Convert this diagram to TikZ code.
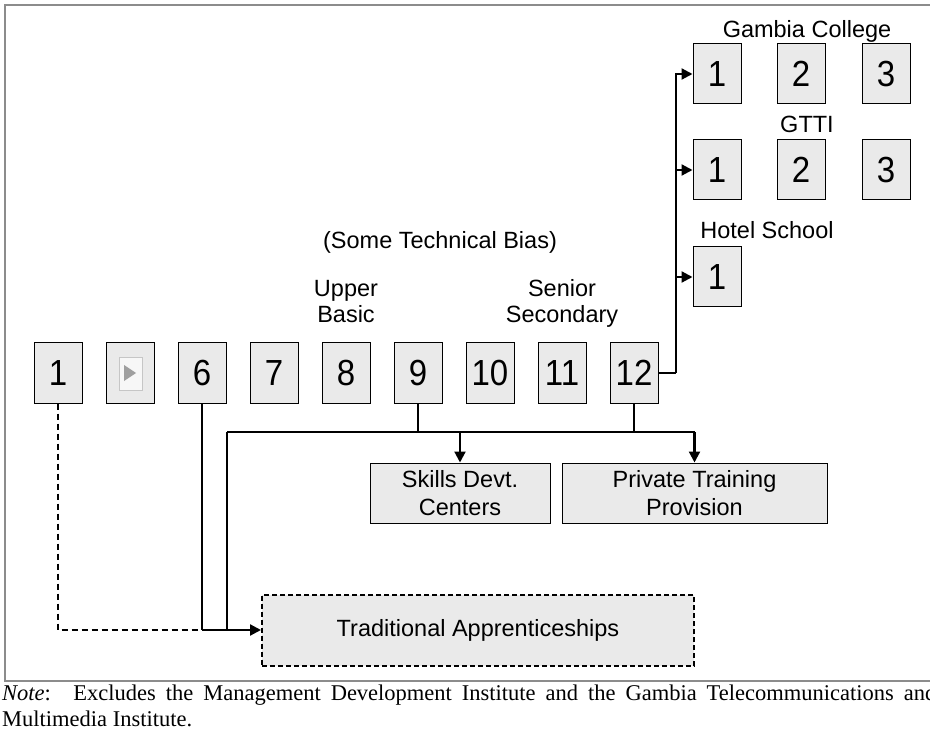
\documentclass[tikz,border=0pt]{standalone}
\usepackage{fontspec}
\setmainfont{Liberation Serif}
\newfontfamily\arialf{Liberation Sans}
\usetikzlibrary{arrows.meta}
\definecolor{boxfill}{HTML}{EAEAEA}
\definecolor{framegray}{HTML}{8C8C8C}
\newcommand{\tall}[1]{\scalebox{1}[1.1]{#1}}
\tikzset{
  yr/.style={draw=black, line width=1pt, fill=boxfill, minimum width=48pt, minimum height=60pt, inner sep=0pt, font=\arialf\fontsize{33}{35}\selectfont},
  lbl/.style={align=center, inner sep=0pt, anchor=base, font=\arialf\fontsize{23.5}{26}\selectfont},
  inst/.style={draw=black, line width=1pt, fill=boxfill, minimum height=60pt, inner sep=0pt, align=center, font=\arialf\fontsize{23.5}{28}\selectfont},
  link/.style={line width=2.2pt},
  arr/.style={line width=2.2pt, -{Triangle[length=11pt,width=11pt]}},
}
\begin{document}
\begin{tikzpicture}[x=1pt,y=-1pt]
\useasboundingbox (0,0) rectangle (930,730);
% frame
\draw[framegray, line width=2pt] (5,5) rectangle (945,681);
% school years
\node[yr] (b1) at (58,373) {\tall{1}};
\node[yr] (b2) at (130,373) {};
\node[yr] (b6) at (202,373) {\tall{6}};
\node[yr] (b7) at (274,373) {\tall{7}};
\node[yr] (b8) at (346,373) {\tall{8}};
\node[yr] (b9) at (418,373) {\tall{9}};
\node[yr] (b10) at (490,373) {\tall{10}};
\node[yr] (b11) at (562,373) {\tall{11}};
\node[yr] (b12) at (634,373) {\tall{12}};
\begin{scope}[shift={(b2.center)}]
  \fill[white!94!gray] (-11,-16) rectangle (12,17);
  \draw[gray!45, line width=0.8pt] (-11,-16) rectangle (12,17);
  \fill[gray!75] (-6,-8) -- (-6,8) -- (6,0) -- cycle;
\end{scope}
% labels
\node[lbl] (ub) at (346,323) {Upper\\Basic};
\node[lbl] (ss) at (562,323) {Senior\\Secondary};
\node[lbl] (stb) at (440,249) {(Some Technical Bias)};
\node[lbl] (gcl) at (807,38) {Gambia College};
\node[lbl] (gtl) at (807,133) {GTTI};
\node[lbl] (hsl) at (767,239) {Hotel School};
% tertiary
\node[yr] (gc1) at (717,74) {\tall{1}};
\node[yr] (gc2) at (801,74) {\tall{2}};
\node[yr] (gc3) at (886,74) {\tall{3}};
\node[yr] (gt1) at (717,170) {\tall{1}};
\node[yr] (gt2) at (801,170) {\tall{2}};
\node[yr] (gt3) at (886,170) {\tall{3}};
\node[yr] (hs1) at (717,277) {\tall{1}};
% training
\node[inst, minimum width=180pt] (sdc) at (460,493) {Skills Devt.\\Centers};
\node[inst, minimum width=265pt] (ptp) at (694.5,493) {Private Training\\Provision};
\node[draw=black, line width=2pt, dash pattern=on 5pt off 3pt, fill=boxfill, minimum width=432pt, minimum height=71pt, inner sep=0pt, font=\arialf\fontsize{23.5}{28}\selectfont] (ta) at (478,630) {Traditional Apprenticeships};
% connectors to tertiary
\coordinate (trunk) at (676,373);
\draw[link] (b12.east) -- (trunk);
\draw[arr] (trunk) |- (gc1.west);
\draw[arr] (trunk |- gt1.west) -- (gt1.west);
\draw[arr] (trunk |- hs1.west) -- (hs1.west);
% bar to training
\coordinate (barL) at (227,432);
\draw[link] (b9.south) -- (b9.south |- barL);
\draw[link] (b12.south) -- (b12.south |- barL);
\draw[link] (barL) -- (ptp.north |- barL);
\draw[arr] (sdc.north |- barL) -- (sdc.north);
\draw[arr] (ptp.north |- barL) -- (ptp.north);
% to traditional apprenticeships
\draw[link] (barL) -- (barL |- ta.west);
\draw[link] (b6.south) -- (b6.south |- ta.west);
\draw[link, dash pattern=on 6pt off 4pt] (b1.south) |- (b6.south |- ta.west);
\draw[arr] (b6.south |- ta.west) -- (ta.west);
% note
\node[anchor=north west, inner sep=0pt, text width=934pt, align=justify, font=\fontsize{22.5}{26}\selectfont] (note) at (2,685) {\hyphenpenalty=10000\exhyphenpenalty=10000\textit{Note}:\quad Excludes the Management Development Institute and the Gambia Telecommunications and \mbox{Multimedia} Institute.\par};
\end{tikzpicture}
\end{document}
